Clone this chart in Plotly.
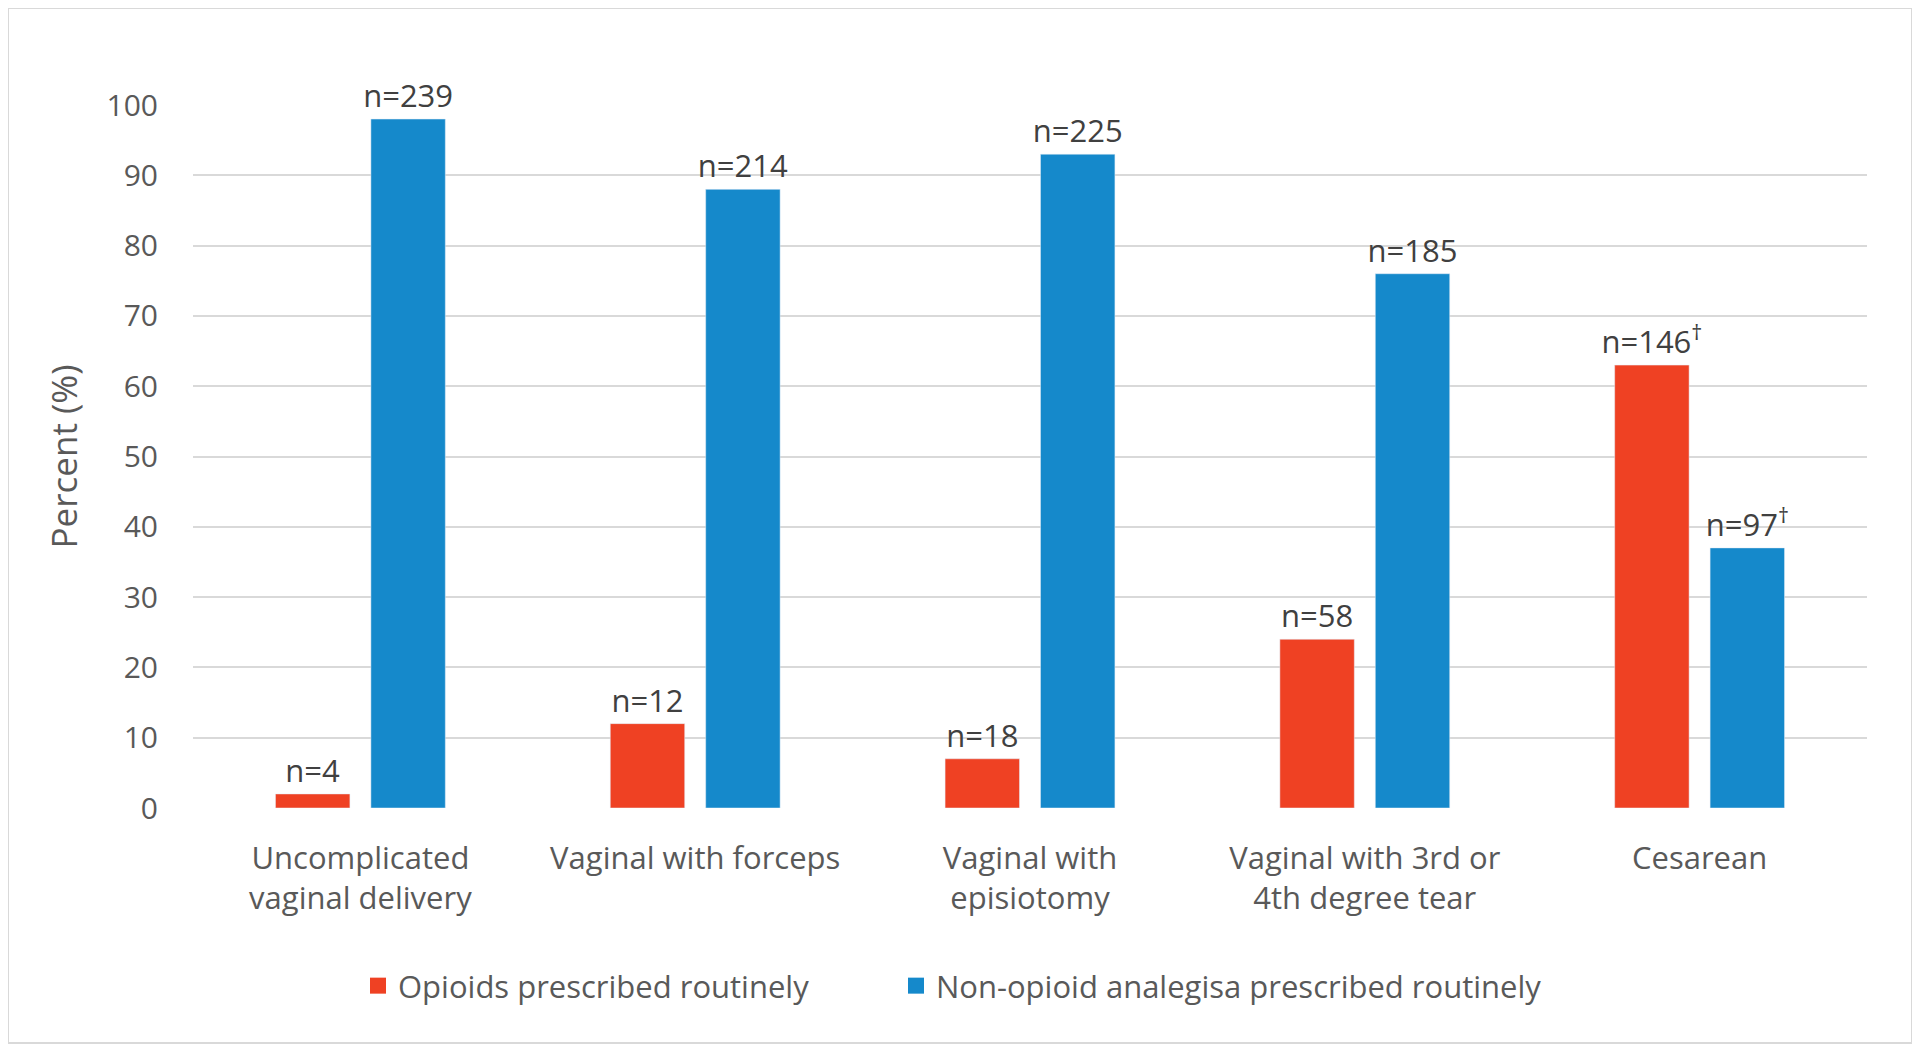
import plotly.graph_objects as go

categories = ["Uncomplicated<br>vaginal delivery", "Vaginal with forceps",
              "Vaginal with<br>episiotomy", "Vaginal with 3rd or<br>4th degree tear", "Cesarean"]
opioid_pct = [2, 12, 7, 24, 63]
nonopioid_pct = [98, 88, 93, 76, 37]
opioid_labels = ["n=4", "n=12", "n=18", "n=58", "n=146<sup>†</sup>"]
nonopioid_labels = ["n=239", "n=214", "n=225", "n=185", "n=97<sup>†</sup>"]
series_names = ["Opioids prescribed routinely", "Non-opioid analegisa prescribed routinely"]
y_ticks = [0, 10, 20, 30, 40, 50, 60, 70, 80, 90, 100]

FONT = "Open Sans"
RED = "#EF4123"
BLUE = "#1589CB"
GREY = "#595959"

# page is offset by an 8px body margin; work in page pixels
OFF = 8
W, H = 1920 - 2 * OFF, 1055 - 2 * OFF
L = 193 - OFF
R = W - (1867 - OFF)
T = 105 - OFF
B = H - (808 - OFF)
pw, ph = W - L - R, H - T - B

def px_x(x):
    return (x - OFF - L) / pw

def px_y(y):
    return (H - B - (y - OFF)) / ph

fig = go.Figure()
fig.add_trace(go.Bar(x=categories, y=opioid_pct, name=series_names[0], showlegend=False,
                     marker_color=RED, text=opioid_labels, textposition="outside",
                     constraintext="none", textangle=0,
                     textfont=dict(family=FONT, size=31, color="#404040"), cliponaxis=False))
fig.add_trace(go.Bar(x=categories, y=nonopioid_pct, name=series_names[1], showlegend=False,
                     marker_color=BLUE, text=nonopioid_labels, textposition="outside",
                     constraintext="none", textangle=0,
                     textfont=dict(family=FONT, size=31, color="#404040"), cliponaxis=False))
# legend entries (square swatches), each in its own legend box
for nm, col, lg in zip(series_names, [RED, BLUE], ["legend", "legend2"]):
    fig.add_trace(go.Scatter(x=[None], y=[None], mode="markers", name=nm, legend=lg,
                             marker=dict(symbol="square", size=18, color=col)))

leg_common = dict(orientation="h", xanchor="left", yanchor="middle", y=px_y(986),
                  font=dict(family=FONT, size=31, color=GREY), itemwidth=30,
                  bgcolor="rgba(0,0,0,0)")

fig.update_layout(
    width=W, height=H,
    margin=dict(l=L, r=R, t=T, b=B),
    paper_bgcolor="white", plot_bgcolor="white",
    barmode="group", bargap=0.43, bargroupgap=0.22,
    font=dict(family=FONT, color=GREY, size=31),
    showlegend=True,
    legend=dict(x=px_x(358), **leg_common),
    legend2=dict(x=px_x(896), **leg_common),
    uniformtext=dict(mode=False),
    shapes=[dict(type="rect", xref="paper", yref="paper",
                 x0=px_x(8), x1=px_x(1912), y0=px_y(1043), y1=px_y(8),
                 line=dict(color="#D9D9D9", width=2), fillcolor="rgba(0,0,0,0)", layer="below")],
)
fig.update_xaxes(showgrid=False, showline=False, zeroline=False, ticks="",
                 tickfont=dict(family=FONT, size=31, color=GREY), ticklabelstandoff=29)
fig.update_yaxes(range=[0, 100], tickvals=y_ticks, showgrid=True, gridcolor="#D9D9D9", gridwidth=2,
                 zeroline=False, showline=False, ticks="",
                 tickfont=dict(family=FONT, size=30, color=GREY), ticklabelstandoff=34,
                 title=dict(text="Percent (%)", font=dict(family=FONT, size=35, color=GREY), standoff=18))

fig.write_html("out.html")
